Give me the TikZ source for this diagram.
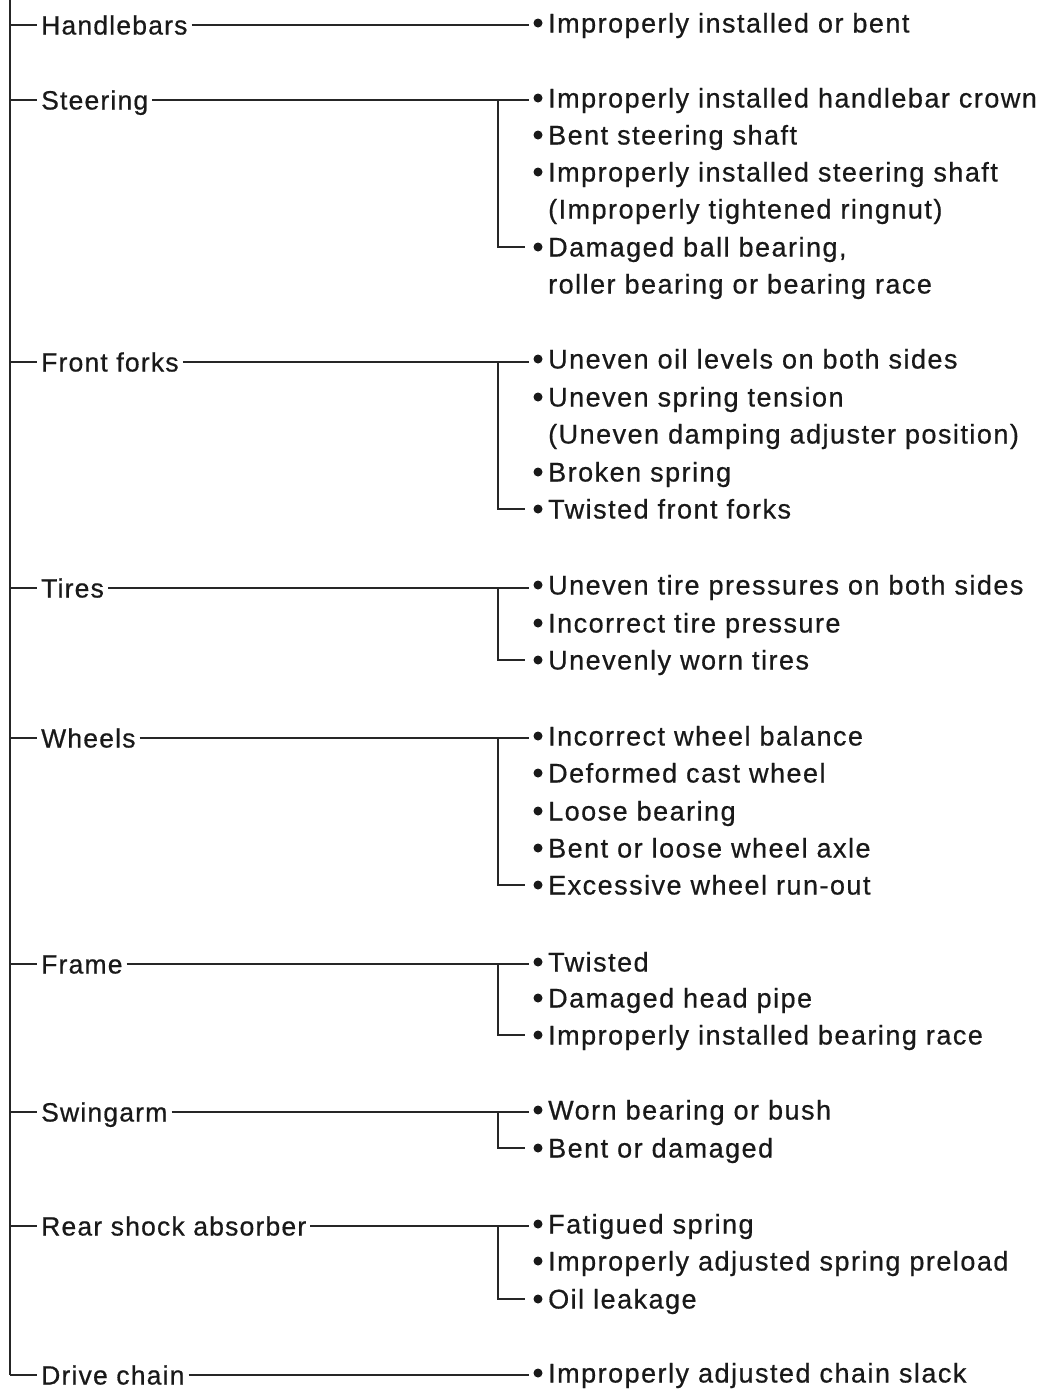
\documentclass[tikz,border=0pt]{standalone}
\usepackage{fontspec}
\setmainfont{Liberation Sans}
\newfontfamily\itemfont{Liberation Sans}[LetterSpace=5.5,FakeBold=0.6]
\newfontfamily\catfont{Liberation Sans}[LetterSpace=4.5,FakeBold=0.6]
\begin{document}
\begin{tikzpicture}[x=1pt,y=-1pt,
  cat/.style={anchor=west,inner xsep=4pt,inner ysep=0pt,text height=19pt,text depth=0pt,
    font=\catfont\fontsize{26.5}{30}\selectfont,text=black!90},
  item/.style={anchor=west,inner sep=0pt,text height=19pt,text depth=0pt,
    font=\itemfont\fontsize{27}{30}\selectfont,text=black!90},
  dot/.style={circle,fill=black!90,minimum size=9pt,inner sep=0pt,outer sep=5pt},
  ln/.style={line width=1.7pt,draw=black!85}]
\useasboundingbox (0,0) rectangle (1044,1390);
% trunk
\coordinate (top) at (10,0);
\coordinate (bot) at (10,1375);
\draw[ln] (top) -- (bot);
% categories
\foreach \nm/\txt/\y in {hb/Handlebars/25, st/Steering/100, ff/Front forks/362, ti/Tires/588, wh/Wheels/738, fr/Frame/964, sw/Swingarm/1112, rs/Rear shock absorber/1226, dc/Drive chain/1375}{
  \coordinate (t\nm) at (10,\y);
  \node[cat] (\nm) at (37,\y) {\txt};
  \draw[ln] (t\nm) -- (\nm.west);
}
% items: name/text/y/bullet?
\foreach \nm/\txt/\y/\b in {
 hb1/Improperly installed or bent/23/1,
 st1/Improperly installed handlebar crown/98/1,
 st2/Bent steering shaft/135/1,
 st3/Improperly installed steering shaft/172/1,
 st3b/(Improperly tightened ringnut)/209/0,
 st4/{Damaged ball bearing,}/247/1,
 st4b/roller bearing or bearing race/284/0,
 ff1/Uneven oil levels on both sides/359/1,
 ff2/Uneven spring tension/397/1,
 ff2b/(Uneven damping adjuster position)/434/0,
 ff3/Broken spring/472/1,
 ff4/Twisted front forks/509/1,
 ti1/Uneven tire pressures on both sides/585/1,
 ti2/Incorrect tire pressure/623/1,
 ti3/Unevenly worn tires/660/1,
 wh1/Incorrect wheel balance/736/1,
 wh2/Deformed cast wheel/773/1,
 wh3/Loose bearing/811/1,
 wh4/Bent or loose wheel axle/848/1,
 wh5/Excessive wheel run-out/885/1,
 fr1/Twisted/962/1,
 fr2/Damaged head pipe/998/1,
 fr3/Improperly installed bearing race/1035/1,
 sw1/Worn bearing or bush/1110/1,
 sw2/Bent or damaged/1148/1,
 rs1/Fatigued spring/1224/1,
 rs2/Improperly adjusted spring preload/1261/1,
 rs3/Oil leakage/1299/1,
 dc1/Improperly adjusted chain slack/1373/1}{
  \node[item] (\nm) at (548,\y) {\txt};
  \ifnum\b=1 \node[dot] (b\nm) at (538,\y) {};\fi
}
% horizontal connectors
\foreach \c in {hb,st,ff,ti,wh,fr,sw,rs,dc}{
  \draw[ln] (\c.east) -- (\c.east -| b\c1.west);
}
% brackets
\foreach \c/\last in {st/st4, ff/ff4, ti/ti3, wh/wh5, fr/fr3, sw/sw2, rs/rs3}{
  \coordinate (k\c) at (498,0);
  \draw[ln] (k\c |- \c.east) -- (k\c |- b\last.west) -- ([xshift=-4pt]b\last.west);
}
\end{tikzpicture}
\end{document}
